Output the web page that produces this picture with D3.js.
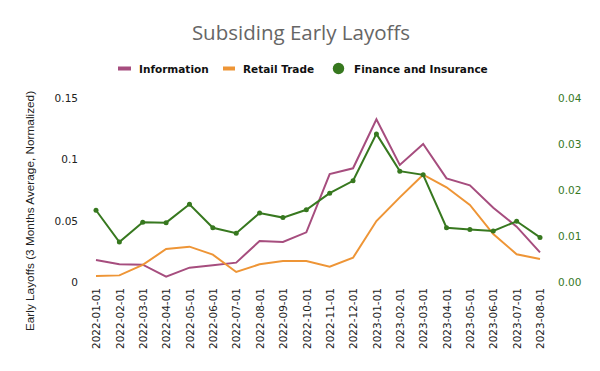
<!DOCTYPE html>
<html>
<head>
<meta charset="utf-8">
<script src="https://cdn.jsdelivr.net/npm/d3@7"></script>
<style>
  body { margin: 0; background: #fff; }
  text { font-family: "DejaVu Sans", sans-serif; }
</style>
</head>
<body>
<div id="chart"></div>
<script>
// data
const months = ["2022-01-01","2022-02-01","2022-03-01","2022-04-01","2022-05-01","2022-06-01","2022-07-01",
  "2022-08-01","2022-09-01","2022-10-01","2022-11-01","2022-12-01","2023-01-01","2023-02-01","2023-03-01",
  "2023-04-01","2023-05-01","2023-06-01","2023-07-01","2023-08-01"];
const information = [0.0179,0.0144,0.0141,0.0043,0.0117,0.0136,0.0158,0.0334,0.0326,0.0405,0.088,0.0927,
  0.1326,0.0954,0.1125,0.0845,0.0788,0.0606,0.0451,0.0242];
const retail = [0.0049,0.0054,0.0139,0.0269,0.0288,0.0223,0.0082,0.0144,0.0171,0.0171,0.0125,0.0198,
  0.0497,0.069,0.0875,0.0772,0.0628,0.0391,0.0226,0.0188];
const finance = [0.0156,0.0087,0.0130,0.0129,0.0169,0.0118,0.0106,0.0150,0.0140,0.0157,0.0193,0.0220,
  0.0322,0.0241,0.0233,0.0118,0.0114,0.0111,0.0132,0.0097];
const leftTicks = [0, 0.05, 0.1, 0.15];
const rightTicks = [0, 0.01, 0.02, 0.03, 0.04];
const seriesNames = ["Information", "Retail Trade", "Finance and Insurance"];

const W = 600, H = 371;
const colors = {info: "#a64d7e", retail: "#ee9536", fin: "#37781f"};

const svg = d3.select("#chart").append("svg").attr("width", W).attr("height", H);

const x = d3.scalePoint().domain(months).range([96, 540]);
const yL = d3.scaleLinear().domain([0, 0.15]).range([282, 98]);
const yR = d3.scaleLinear().domain([0, 0.04]).range([282, 98]);

// title
svg.append("text").attr("x", 301).attr("y", 40).attr("text-anchor", "middle")
  .style("font-family", "'Open Sans', sans-serif").style("font-size", "20.5px").attr("fill", "#666")
  .text("Subsiding Early Layoffs");

// legend
const leg = svg.append("g").style("font-size", "10.5px").style("font-weight", "bold").attr("fill", "#111");
leg.append("rect").attr("x", 118).attr("y", 66.5).attr("width", 13).attr("height", 4).attr("fill", colors.info);
leg.append("text").attr("x", 139).attr("y", 73).text(seriesNames[0]);
leg.append("rect").attr("x", 223).attr("y", 66.5).attr("width", 12).attr("height", 4).attr("fill", colors.retail);
leg.append("text").attr("x", 243).attr("y", 73).text(seriesNames[1]);
leg.append("circle").attr("cx", 338.5).attr("cy", 68.5).attr("r", 5.7).attr("fill", colors.fin);
leg.append("text").attr("x", 354).attr("y", 73).text(seriesNames[2]);

// left axis
const axL = svg.append("g").attr("transform", "translate(82,0)")
  .call(d3.axisLeft(yL).tickValues(leftTicks).tickSize(0).tickPadding(4).tickFormat(d => d3.format("")(d)));
axL.select(".domain").remove();
axL.selectAll("text").style("font-size", "10.5px").attr("fill", "#222");

// right axis
const axR = svg.append("g").attr("transform", "translate(555,0)")
  .call(d3.axisRight(yR).tickValues(rightTicks).tickSize(0).tickPadding(3).tickFormat(d3.format(".2f")));
axR.select(".domain").remove();
axR.selectAll("text").style("font-size", "10.5px").attr("fill", colors.fin);

// x axis
const axX = svg.append("g").attr("transform", "translate(0,284)")
  .call(d3.axisBottom(x).tickSize(0).tickPadding(0));
axX.select(".domain").remove();
axX.selectAll("text").style("font-size", "10.5px").attr("fill", "#222")
  .attr("text-anchor", "end").attr("transform", "rotate(-90)").attr("x", -4).attr("y", 0).attr("dy", "0.35em");

// y label
svg.append("text").attr("transform", "translate(34,211) rotate(-90)").attr("text-anchor", "middle")
  .style("font-family", "'Liberation Sans', sans-serif").style("font-size", "11.8px").attr("fill", "#222")
  .text("Early Layoffs (3 Months Average, Normalized)");

// lines
const lineL = d3.line().x((d, i) => x(months[i])).y(d => yL(d));
const lineR = d3.line().x((d, i) => x(months[i])).y(d => yR(d));

svg.append("path").datum(information).attr("d", lineL).attr("fill", "none")
  .attr("stroke", colors.info).attr("stroke-width", 2);
svg.append("path").datum(retail).attr("d", lineL).attr("fill", "none")
  .attr("stroke", colors.retail).attr("stroke-width", 2);
svg.append("path").datum(finance).attr("d", lineR).attr("fill", "none")
  .attr("stroke", colors.fin).attr("stroke-width", 2);
svg.append("g").selectAll("circle").data(finance).join("circle")
  .attr("cx", (d, i) => x(months[i])).attr("cy", d => yR(d)).attr("r", 2.5).attr("fill", colors.fin);
</script>
</body>
</html>
